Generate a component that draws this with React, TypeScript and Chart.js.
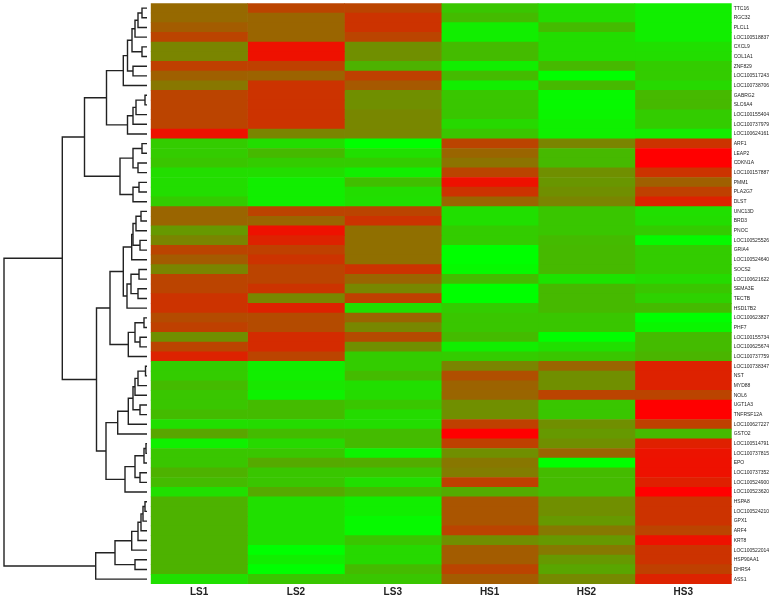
import React, { useEffect, useRef } from "react";
import { Chart, registerables } from "chart.js";
Chart.register(...registerables);

const genes = [
  "TTC16", "RGC32", "PLCL1", "LOC100518837", "CXCL9", "COL1A1", "ZNF829", "LOC100517243", "LOC100738706", "GABRG2",
  "SLC6A4", "LOC100155404", "LOC100737979", "LOC100624161", "ARF1", "LEAP2", "CDKN1A", "LOC100157887", "PMM1", "PLA2G7",
  "DLST", "UNC13D", "BRD3", "PNOC", "LOC100525526", "GRIA4", "LOC100524640", "SOCS2", "LOC100621622", "SEMA3E",
  "TECTB", "HSD17B2", "LOC100623827", "PHF7", "LOC100155734", "LOC100625674", "LOC100737759", "LOC100738347", "NST", "MYD88",
  "NOL6", "UGT1A3", "TNFRSF12A", "LOC100627227", "GSTO2", "LOC100514791", "LOC100737815", "EPO", "LOC100737352", "LOC100524900",
  "LOC100523620", "HSPA8", "LOC100524210", "GPX1", "ARF4", "KRT8", "LOC100522014", "HSP90AA1", "DHRS4", "ASS1",
];

const samples = ["LS1", "LS2", "LS3", "HS1", "HS2", "HS3"];

const LS1 = [
  0.18, 0.18, 0.28, 0.47, -0.04, -0.04, 0.5, 0.25, 0.07, 0.47,
  0.47, 0.47, 0.47, 0.87, -0.6, -0.6, -0.55, -0.73, -0.73, -0.73,
  -0.6, 0.21, 0.21, -0.2, -0.04, 0.47, 0.29, -0.04, 0.47, 0.47,
  0.6, 0.6, 0.41, 0.5, -0.12, 0.47, 0.73, -0.6, -0.6, -0.47,
  -0.55, -0.55, -0.47, -0.75, -0.3, -0.88, -0.55, -0.55, -0.4, -0.47,
  -0.75, -0.4, -0.4, -0.4, -0.4, -0.4, -0.4, -0.4, -0.4, -0.75,
];
const LS2 = [
  0.47, 0.21, 0.21, 0.21, 0.87, 0.87, 0.5, 0.22, 0.6, 0.6,
  0.6, 0.6, 0.6, -0.04, -0.73, -0.45, -0.6, -0.73, -0.87, -0.87,
  -0.87, 0.47, 0.21, 0.87, 0.73, 0.5, 0.6, 0.47, 0.47, 0.6,
  -0.06, 0.73, 0.41, 0.41, 0.66, 0.66, 0.47, -0.87, -0.87, -0.8,
  -0.9, -0.47, -0.47, -0.72, -0.47, -0.7, -0.55, -0.33, -0.55, -0.55,
  -0.33, -0.75, -0.75, -0.75, -0.75, -0.75, -1.0, -0.87, -1.0, -0.55,
];
const LS3 = [
  0.47, 0.6, 0.6, 0.47, -0.12, -0.12, -0.4, 0.5, 0.3, -0.12,
  -0.12, -0.06, -0.06, -0.05, -1.0, -0.75, -0.6, -0.87, -0.5, -0.73,
  -0.75, 0.47, 0.6, 0.13, 0.13, 0.13, 0.13, 0.6, 0.21, -0.06,
  0.5, -0.75, 0.21, -0.06, 0.42, -0.12, -0.6, -0.6, -0.47, -0.75,
  -0.72, -0.55, -0.72, -0.73, -0.47, -0.47, -0.9, -0.35, -0.55, -0.75,
  -0.47, -0.87, -0.87, -0.95, -0.95, -0.55, -0.7, -0.7, -0.47, -0.55,
];
const HS1 = [
  -0.55, -0.47, -0.87, -0.87, -0.47, -0.47, -0.87, -0.47, -0.87, -0.55,
  -0.55, -0.55, -0.7, -0.55, 0.47, 0.21, 0.1, 0.47, 0.87, 0.6,
  0.21, -0.75, -0.75, -0.6, -0.6, -1.0, -1.0, -0.95, -0.47, -1.0,
  -1.0, -0.6, -0.55, -0.55, -0.47, -0.87, -0.6, -0.04, 0.38, 0.22,
  0.21, -0.12, -0.12, 0.5, 1.0, 0.5, -0.12, 0.07, 0.02, 0.5,
  -0.35, 0.33, 0.33, 0.33, 0.47, -0.12, 0.28, 0.28, 0.47, 0.28,
];
const HS2 = [
  -0.73, -0.73, -0.47, -0.73, -0.73, -0.73, -0.45, -1.0, -0.45, -0.95,
  -0.95, -0.92, -0.88, -0.88, -0.04, -0.45, -0.45, -0.12, -0.18, -0.12,
  -0.04, -0.55, -0.55, -0.55, -0.47, -0.45, -0.45, -0.45, -0.78, -0.45,
  -0.45, -0.45, -0.55, -0.55, -1.0, -0.75, -0.55, 0.21, -0.12, -0.12,
  0.47, -0.55, -0.55, -0.12, -0.2, -0.12, 0.21, -1.0, -0.47, -0.47,
  -0.47, -0.12, -0.12, -0.2, 0.05, -0.2, 0.05, -0.2, -0.3, -0.08,
];
const HS3 = [
  -0.87, -0.87, -0.87, -0.87, -0.75, -0.73, -0.6, -0.6, -0.7, -0.45,
  -0.45, -0.6, -0.6, -0.85, 0.6, 1.0, 1.0, 0.6, 0.25, 0.5,
  0.73, -0.75, -0.73, -0.6, -0.95, -0.6, -0.6, -0.6, -0.72, -0.55,
  -0.65, -0.47, -1.0, -0.92, -0.47, -0.47, -0.42, 0.73, 0.73, 0.73,
  0.47, 1.0, 1.0, 0.5, -0.45, 0.75, 0.85, 0.87, 0.87, 0.75,
  1.0, 0.6, 0.6, 0.6, 0.47, 0.87, 0.6, 0.6, 0.5, 0.73,
];

// Row dendrogram: [childA, childB, mergeHeight]; leaves are 0..59, merge k creates node 60+k
const linkage: [number, number, number][] = [
  [0, 1, 5], [60, 2, 9], [61, 3, 12], [4, 5, 5], [62, 63, 15], [6, 7, 14], [64, 65, 19.5], [66, 8, 23.7],
  [9, 10, 2], [68, 11, 11], [69, 12, 14], [70, 13, 19.5], [67, 71, 40.5],
  [14, 15, 5], [16, 17, 9], [73, 74, 14], [18, 19, 8], [76, 20, 14], [75, 77, 27], [72, 78, 62.5],
  [21, 22, 6], [80, 23, 11], [24, 25, 7], [81, 82, 14], [83, 26, 15.3], [27, 28, 8], [29, 30, 9], [85, 86, 16], [87, 31, 20], [84, 88, 23.7],
  [32, 33, 3], [34, 35, 7], [90, 91, 12], [92, 36, 18.7], [89, 93, 37],
  [37, 38, 1.5], [95, 39, 9], [96, 40, 12], [41, 42, 7], [97, 98, 14], [99, 43, 18.7], [100, 44, 29.3],
  [45, 46, 1], [102, 47, 3], [48, 49, 7], [103, 104, 12], [105, 50, 22], [101, 106, 41],
  [94, 107, 50.5], [79, 108, 84.7],
  [51, 52, 2], [110, 53, 4], [111, 54, 6], [112, 55, 9], [113, 56, 15.3], [57, 58, 12], [114, 115, 32], [116, 59, 51.3],
  [109, 117, 143],
];

function valueColor(v: number): string {
  const t = Math.max(0, Math.min(1, (v + 1) / 2));
  const r = Math.round(255 * t);
  const g = 255 - r;
  return `rgb(${r},${g},0)`;
}

const FONT = "'Liberation Sans', Arial, sans-serif";

export default function App() {
  const heatRef = useRef<HTMLCanvasElement>(null);
  const dendRef = useRef<HTMLCanvasElement>(null);

  useEffect(() => {
    const series = [LS1, LS2, LS3, HS1, HS2, HS3];
    const heat = new Chart(heatRef.current as HTMLCanvasElement, {
      type: "bar",
      data: {
        labels: genes,
        datasets: series.map((vals, j) => ({
          label: samples[j],
          data: vals.map(() => 1),
          backgroundColor: vals.map(valueColor),
          borderWidth: 0,
          barPercentage: 1,
          categoryPercentage: 1,
          xAxisID: "x",
          yAxisID: "y",
        })),
      },
      options: {
        indexAxis: "y",
        animation: false,
        responsive: false,
        maintainAspectRatio: false,
        events: [],
        layout: { padding: { left: 150.7, top: 3.3, right: 0, bottom: 0 } },
        plugins: { legend: { display: false }, tooltip: { enabled: false } },
        scales: {
          x: { type: "linear", stacked: true, min: 0, max: 6, display: false },
          xl: {
            type: "category",
            axis: "x",
            labels: samples,
            position: "bottom",
            offset: true,
            grid: { display: false, drawTicks: false },
            border: { display: false },
            ticks: { font: { family: FONT, size: 10, weight: "bold" }, color: "#222", padding: 2, maxRotation: 0, autoSkip: false },
            afterFit: (s: any) => { s.height = 14; s.paddingLeft = 0; s.paddingRight = 0; },
          },
          y: {
            type: "category",
            position: "right",
            stacked: true,
            offset: true,
            grid: { display: false, drawTicks: false },
            border: { display: false },
            ticks: { autoSkip: false, font: { family: FONT, size: 5 }, color: "#222", padding: 2 },
            afterFit: (s: any) => { s.width = 40.3; s.paddingTop = 0; s.paddingBottom = 0; },
          },
        } as any,
      },
    });

    // compute node positions from linkage
    const ys: number[] = genes.map((_, i) => i);
    const hs: number[] = genes.map(() => 0);
    const segments: { x: number; y: number }[][] = [];
    linkage.forEach(([a, b, h]) => {
      const ya = ys[a], yb = ys[b];
      segments.push([
        { x: hs[a], y: ya },
        { x: h, y: ya },
        { x: h, y: yb },
        { x: hs[b], y: yb },
      ]);
      ys.push((ya + yb) / 2);
      hs.push(h);
    });

    const dend = new Chart(dendRef.current as HTMLCanvasElement, {
      type: "scatter",
      data: {
        datasets: segments.map((seg) => ({
          data: seg,
          showLine: true,
          borderColor: "#222",
          borderWidth: 1.4,
          pointRadius: 0,
          fill: false,
          tension: 0,
          clip: false as any,
        })),
      },
      options: {
        animation: false,
        responsive: false,
        maintainAspectRatio: false,
        events: [],
        layout: { padding: { left: 4, right: 3, top: 3.3, bottom: 14 } },
        plugins: { legend: { display: false }, tooltip: { enabled: false } },
        scales: {
          x: { type: "linear", min: 0, max: 143, reverse: true, display: false },
          y: { type: "linear", min: -0.5, max: 59.5, reverse: true, display: false },
        },
      },
    });

    return () => {
      heat.destroy();
      dend.destroy();
    };
  }, []);

  return (
    <div style={{ position: "fixed", left: 0, top: 0, width: 772, height: 598, background: "#fff" }}>
      <canvas ref={heatRef} width={772} height={598} style={{ position: "absolute", left: 0, top: 0, width: 772, height: 598 }} />
      <canvas ref={dendRef} width={150} height={598} style={{ position: "absolute", left: 0, top: 0, width: 150, height: 598 }} />
    </div>
  );
}
